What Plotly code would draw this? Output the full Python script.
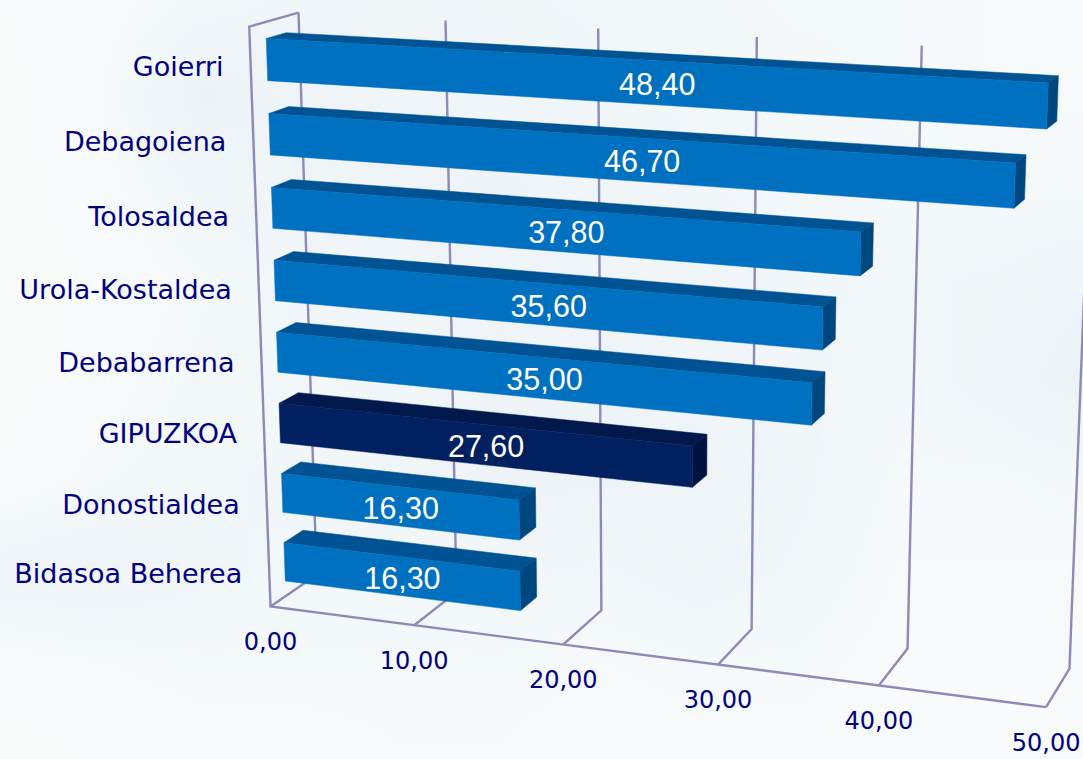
import numpy as np
import plotly.graph_objects as go

# ---------- data ----------
categories = ["Goierri", "Debagoiena", "Tolosaldea", "Urola-Kostaldea",
              "Debabarrena", "GIPUZKOA", "Donostialdea", "Bidasoa Beherea"]
values = [48.40, 46.70, 37.80, 35.60, 35.00, 27.60, 16.30, 16.30]
highlight = "GIPUZKOA"
ticks = [0, 10, 20, 30, 40, 50]

# background tone (0 light .. 1 dark), coarse grid
bg_x = [0, 100, 200, 300, 400, 500, 600, 700, 800, 900, 1000, 1083]
bg_y = [0, 95, 190, 285, 380, 475, 570, 665, 759]
bg_z = [
    [.15, .20, .35, .45, .50, .45, .40, .35, .30, .30, .25, .25],
    [.10, .25, .65, .55, .50, .50, .45, .40, .35, .30, .25, .25],
    [.10, .20, .45, .55, .55, .60, .50, .45, .35, .35, .30, .30],
    [.10, .15, .30, .45, .50, .55, .50, .50, .45, .40, .45, .55],
    [.10, .20, .35, .40, .45, .60, .60, .50, .45, .35, .50, .65],
    [.15, .30, .40, .45, .50, .60, .60, .55, .45, .30, .30, .35],
    [.50, .55, .45, .40, .40, .45, .40, .50, .40, .25, .25, .25],
    [.20, .25, .30, .30, .30, .30, .25, .30, .30, .20, .20, .20],
    [.10, .15, .20, .20, .25, .25, .20, .20, .20, .15, .15, .15],
]

# ---------- projection of the pseudo-3D box onto the page ----------
# (value, height 0..1, depth 0..1) -> (page x, page y), fitted from the frame
frame_points = [
    (0, 0, 0, 272, 605), (10, 0, 0, 415, 625), (20, 0, 0, 563, 645),
    (30, 0, 0, 718, 665), (40, 0, 0, 878, 686), (50, 0, 0, 1046, 708),
    (0, 0, 1, 313, 577), (10, 0, 1, 458, 592), (20, 0, 1, 602, 609),
    (30, 0, 1, 752, 628), (40, 0, 1, 908, 648), (50, 0, 1, 1069, 669),
    (0, 1, 0, 248, 26), (0, 1, 1, 300, 13), (10, 1, 1, 446, 21),
    (20, 1, 1, 597, 29), (30, 1, 1, 757, 37), (40, 1, 1, 922, 45),
]
A = []
for v, h, d, px, py in frame_points:
    X = [v / 50, h, d, 1]
    A.append(X + [0, 0, 0, 0] + [-px * c for c in X])
    A.append([0, 0, 0, 0] + X + [-py * c for c in X])
P = np.linalg.svd(np.array(A, float))[2][-1].reshape(3, 4)


def proj(v, h, d):
    q = P @ np.array([v / 50, h, d, 1.0])
    return q[0] / q[2], q[1] / q[2]


def poly(pts):
    xy = [proj(*p) for p in pts]
    xy.append(xy[0])
    return [p[0] for p in xy], [p[1] for p in xy]


D0, D1 = 0.325, 0.735
BAR = 0.56
n = len(categories)

fig = go.Figure()
fig.add_trace(go.Heatmap(x=bg_x, y=bg_y, z=bg_z, zmin=0, zmax=1, zsmooth="best",
                         showscale=False, hoverinfo="skip",
                         colorscale=[[0, "#fcfefc"], [0.4, "#f2f7fa"], [1, "#e4ebef"]]))

GRID = dict(color="#8f89b8", width=2.4)


def line(pts):
    xy = [proj(*p) for p in pts]
    fig.add_trace(go.Scatter(x=[p[0] for p in xy], y=[p[1] for p in xy], mode="lines",
                             line=GRID, hoverinfo="skip"))


for t in ticks:
    line([(t, 0, 0), (t, 0, 1), (t, 1, 1)])
line([(0, 1, 1), (0, 1, 0), (0, 0, 0), (50, 0, 0)])


def face(pts, color):
    x, y = poly(pts)
    fig.add_trace(go.Scatter(x=x, y=y, mode="lines", fill="toself", fillcolor=color,
                             line=dict(color=color, width=0.5), hoverinfo="skip"))


lab_x, lab_y, lab_t, cat_x, cat_y = [], [], [], [], []
for i, (c, v) in enumerate(zip(categories, values)):
    hc = 1 - (i + 0.5) / n
    lo, hi = hc - BAR / n / 2, hc + BAR / n / 2
    dark = c == highlight
    front, top, side = ("#002060", "#00184c", "#00123f") if dark else ("#0070c0", "#005392", "#00477f")
    face([(0, hi, D0), (v, hi, D0), (v, hi, D1), (0, hi, D1)], top)
    face([(v, lo, D0), (v, hi, D0), (v, hi, D1), (v, lo, D1)], side)
    face([(0, lo, D0), (v, lo, D0), (v, hi, D0), (0, hi, D0)], front)
    corners = [proj(*p) for p in [(0, lo, D0), (v, lo, D0), (v, hi, D0), (0, hi, D0)]]
    lab_x.append(sum(p[0] for p in corners) / 4)
    lab_y.append(sum(p[1] for p in corners) / 4 + 4.5)
    lab_t.append(f"{v:.2f}".replace(".", ","))
    ax, ay = proj(0, hc, 0)
    cat_x.append(ax - 27)
    cat_y.append(ay + 4.5)

fig.add_trace(go.Scatter(x=lab_x, y=lab_y, text=lab_t, mode="text", textposition="middle center",
                         textfont=dict(family="Liberation Sans", size=30.5, color="white"), hoverinfo="skip"))
fig.add_trace(go.Scatter(x=cat_x, y=cat_y, text=categories, mode="text", textposition="middle left",
                         textfont=dict(family="DejaVu Sans", size=27, color="#000080"), hoverinfo="skip"))
tick_xy = [proj(t, 0, 0) for t in ticks]
fig.add_trace(go.Scatter(x=[p[0] for p in tick_xy], y=[p[1] + 37.5 for p in tick_xy],
                         text=[f"{t:.2f}".replace(".", ",") for t in ticks], mode="text",
                         textposition="middle center",
                         textfont=dict(family="DejaVu Sans", size=24, color="#000080"), hoverinfo="skip"))

hidden = dict(visible=False, fixedrange=True)
fig.update_layout(width=1083, height=759, margin=dict(l=0, r=0, t=0, b=0), showlegend=False,
                  paper_bgcolor="#f4f8fb", plot_bgcolor="#f4f8fb",
                  xaxis=dict(range=[0, 1083], **hidden),
                  yaxis=dict(range=[759, 0], **hidden))
fig.write_html("out.html", config=dict(displayModeBar=False),
               post_script="document.body.style.margin='0';document.documentElement.style.overflow='hidden';")
